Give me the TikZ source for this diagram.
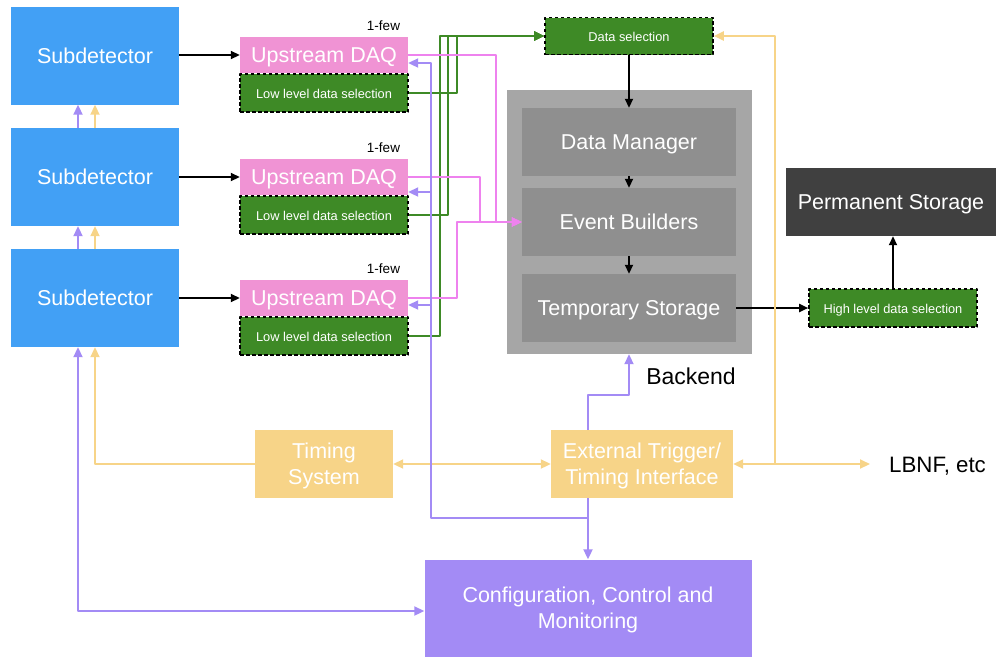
\documentclass[tikz,border=0pt]{standalone}
\usepackage{fontspec}
\setmainfont{Liberation Sans}
\usetikzlibrary{arrows.meta,positioning}

\definecolor{subblue}{RGB}{66,160,245}
\definecolor{daqpink}{RGB}{240,147,212}
\definecolor{selgreen}{RGB}{62,138,38}
\definecolor{tmgold}{RGB}{247,212,136}
\definecolor{ccmpurple}{RGB}{163,139,245}
\definecolor{backgray}{RGB}{166,166,166}
\definecolor{innergray}{RGB}{143,143,143}
\definecolor{permgray}{RGB}{64,64,64}
\definecolor{linkpink}{RGB}{238,130,238}

\begin{document}
\begin{tikzpicture}[x=1pt,y=-1pt,line join=round,
  box/.style={rectangle,inner sep=0pt,text=white,align=center,font=\fontsize{21.5}{25.5}\selectfont},
  oneline/.style={text height=15.4pt,text depth=0pt},
  twoline/.style={text depth=1pt},
  selbox/.style={box,fill=selgreen,draw=black,line width=1.6pt,dash pattern=on 3.5pt off 2.5pt,
    font=\fontsize{12.8}{15}\selectfont,text height=11pt,text depth=1pt},
  fewlbl/.style={inner sep=0pt,font=\fontsize{13.5}{16}\selectfont},
  tip/.style={-{Triangle[length=10pt,width=9pt]}},
  flow/.style={line width=1.8pt,-{Triangle[length=9pt,width=8pt]}},
  grn/.style={tip,line width=2pt,draw=selgreen},
  pnk/.style={tip,line width=2pt,draw=linkpink},
  prp/.style={tip,line width=2pt,draw=ccmpurple},
  ylw/.style={tip,line width=2pt,draw=tmgold},
  both/.style={{Triangle[length=10pt,width=9pt]}-{Triangle[length=10pt,width=9pt]}}]
  \useasboundingbox (0,0) rectangle (996,657);

  % detectors and upstream
  \node[box,oneline,fill=subblue,minimum width=168pt,minimum height=98pt] (sub1) at (95,55.5) {Subdetector};
  \node[box,oneline,fill=subblue,minimum width=168pt,minimum height=98pt] (sub2) at (95,177) {Subdetector};
  \node[box,oneline,fill=subblue,minimum width=168pt,minimum height=98pt] (sub3) at (95,298) {Subdetector};
  \node[box,oneline,fill=daqpink,minimum width=168pt,minimum height=36pt] (daq1) at (324,55) {Upstream DAQ};
  \node[box,oneline,fill=daqpink,minimum width=168pt,minimum height=36pt] (daq2) at (324,177) {Upstream DAQ};
  \node[box,oneline,fill=daqpink,minimum width=168pt,minimum height=36pt] (daq3) at (324,298) {Upstream DAQ};
  \node[selbox,minimum width=168pt,minimum height=38pt,below=0pt of daq1] (low1) {Low level data selection};
  \node[selbox,minimum width=168pt,minimum height=38pt,below=0pt of daq2] (low2) {Low level data selection};
  \node[selbox,minimum width=168pt,minimum height=38pt,below=0pt of daq3] (low3) {Low level data selection};
  \node[fewlbl,above left=6pt and 8pt of daq1.north east] (few1) {1-few};
  \node[fewlbl,above left=6pt and 8pt of daq2.north east] (few2) {1-few};
  \node[fewlbl,above left=6pt and 8pt of daq3.north east] (few3) {1-few};

  % backend
  \node[selbox,minimum width=168pt,minimum height=37pt] (dsel) at (629,36) {Data selection};
  \node[box,fill=backgray,minimum width=245pt,minimum height=264pt] (back) at (629,222) {};
  \node[box,oneline,fill=innergray,minimum width=214pt,minimum height=68pt] (dm) at (629,142) {Data Manager};
  \node[box,oneline,fill=innergray,minimum width=214pt,minimum height=68pt] (eb) at (629,222) {Event Builders};
  \node[box,oneline,fill=innergray,minimum width=214pt,minimum height=68pt] (ts) at (629,308) {Temporary Storage};
  \node[inner sep=0pt,font=\fontsize{23}{27}\selectfont] (bklbl) at (691,376) {Backend};
  \node[box,oneline,fill=permgray,minimum width=210pt,minimum height=68pt] (perm) at (891,202) {Permanent Storage};
  \node[selbox,minimum width=168pt,minimum height=38pt] (hls) at (893,308) {High level data selection};

  % timing and control
  \node[box,twoline,fill=tmgold,minimum width=138pt,minimum height=68pt] (tim) at (324,464) {Timing\\System};
  \node[box,twoline,fill=tmgold,minimum width=182pt,minimum height=68pt] (ext) at (642,464) {External Trigger/\\Timing Interface};
  \node[box,twoline,fill=ccmpurple,minimum width=327pt,minimum height=97pt] (cfg) at (588,608) {Configuration, Control and\\Monitoring};
  \node[anchor=west,inner sep=0pt,font=\fontsize{22.3}{26}\selectfont] (lbnf) at (889,466) {LBNF, etc};

  % data path
  \draw[flow] (sub1.east |- daq1) -- (daq1.west);
  \draw[flow] (sub2.east |- daq2) -- (daq2.west);
  \draw[flow] (sub3.east |- daq3) -- (daq3.west);
  \draw[flow] (dsel) -- (dm);
  \draw[flow] (dm) -- (eb);
  \draw[flow] (eb) -- (ts);
  \draw[flow] (ts) -- (hls);
  \draw[flow] (hls.north) -- (hls.north |- perm.south);

  \coordinate (g1) at (457,36);
  \coordinate (g2) at (448,36);
  \coordinate (g3) at (440,36);
  \draw[grn] (low1.east) -| (g1) -- (dsel.west);
  \draw[grn] (low2.east) -| (g2) -- (dsel.west);
  \draw[grn] (low3.east) -| (g3) -- (dsel.west);

  \coordinate (p1) at (496,222);
  \coordinate (p2) at (480,222);
  \coordinate (p3) at (457,222);
  \draw[pnk] (daq1.east) -| (p1) -- (eb.west);
  \draw[pnk] (daq2.east) -| (p2) -- (eb.west);
  \draw[pnk] (daq3.east) -| (p3) -- (eb.west);

  % timing
  \coordinate (ty) at (95,464);
  \coordinate (lj) at (775,464);
  \draw[ylw] (sub2.north -| ty) -- (sub1.south -| ty);
  \draw[ylw] (sub3.north -| ty) -- (sub2.south -| ty);
  \draw[ylw] (tim.west) -| (sub3.south -| ty);
  \draw[ylw,both] (tim) -- (ext);
  \draw[ylw] (lj) -- (ext.east);
  \draw[ylw,shorten >=19pt] (lj) -- (lj -| lbnf.west);
  \draw[ylw] (lj) |- (dsel.east);

  % control
  \coordinate (ck) at (78,611);
  \coordinate (vtop) at (588,395);
  \coordinate (vmid) at (588,518);
  \coordinate (c1) at (431,63);
  \coordinate (c2) at (431,192);
  \coordinate (c3) at (431,305);
  \draw[prp] (sub2.north -| ck) -- (sub1.south -| ck);
  \draw[prp] (sub3.north -| ck) -- (sub2.south -| ck);
  \draw[prp,both] (sub3.south -| ck) -- (ck) -- (cfg.west |- ck);
  \draw[prp] (vtop |- ext.north) -- (vtop) -| (back.south);
  \draw[prp] (vtop |- ext.south) -- (vtop |- cfg.north);
  \draw[prp] (vmid) -| (c1) -- (daq1.east |- c1);
  \draw[prp] (c2) -- (daq2.east |- c2);
  \draw[prp] (c3) -- (daq3.east |- c3);
\end{tikzpicture}
\end{document}
